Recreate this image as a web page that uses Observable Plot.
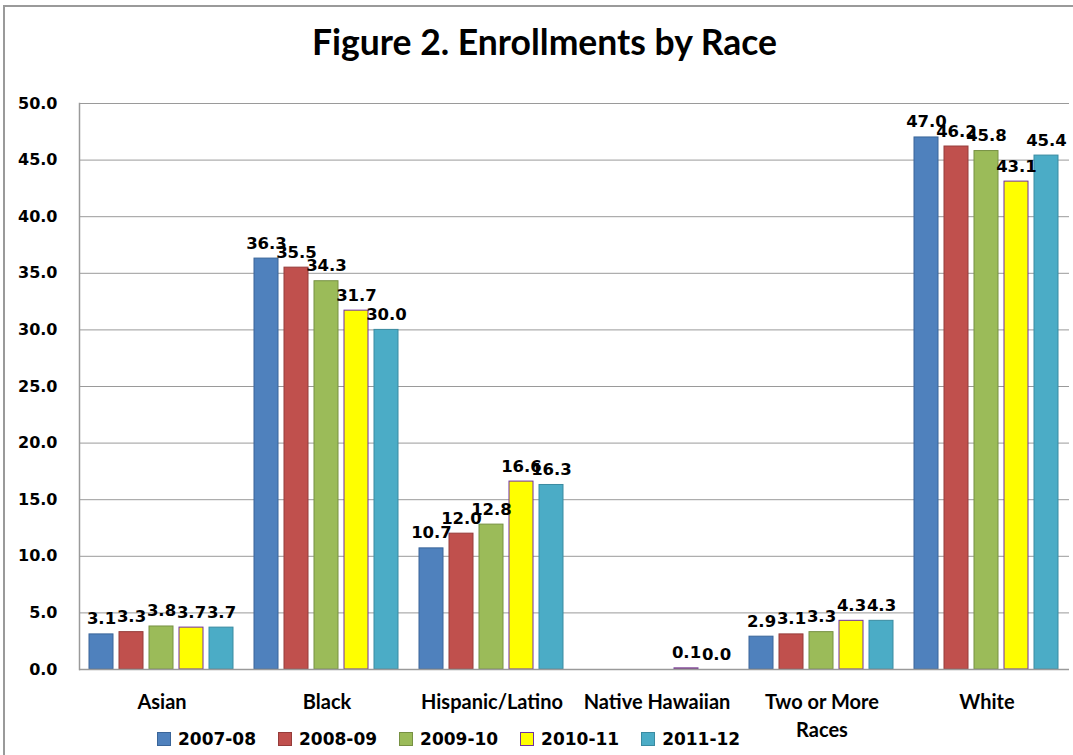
<!DOCTYPE html>
<html>
<head>
<meta charset="utf-8">
<script src="https://cdn.jsdelivr.net/npm/d3@7"></script>
<script src="https://cdn.jsdelivr.net/npm/@observablehq/plot@0.6"></script>
<style>
  html, body { margin: 0; padding: 0; background: #fff; }
  #wrap { position: relative; width: 1073px; height: 755px; overflow: hidden; background: #fff; }
  #border { position: absolute; left: 3px; top: 5px; width: 1100px; height: 800px; border: 2px solid #9a9a9a; box-sizing: border-box; }
  #title { position: absolute; left: 8px; width: 1073px; top: 22px; text-align: center; font-family: Lato, sans-serif; font-weight: bold; font-size: 35.5px; line-height: 40px; color: #000; }
  #chart { position: absolute; left: 0; top: 0; }
  #legend { position: absolute; left: 157px; top: 729px; display: flex; align-items: center; font-family: "DejaVu Sans", sans-serif; font-weight: bold; font-size: 17px; color: #000; }
  .item { display: flex; align-items: center; margin-right: 22px; }
  .sw { width: 14px; height: 14px; box-sizing: border-box; border: 1px solid; margin-right: 7px; }
</style>
</head>
<body>
<div id="wrap">
  <div id="border"></div>
  <div id="chart"></div>
  <div id="title">Figure 2. Enrollments by Race</div>
  <div id="legend"></div>
</div>
<script>
// ---- data ----
const races = ["Asian", "Black", "Hispanic/Latino", "Native Hawaiian", "Two or More Races", "White"];
const raceLabels = ["Asian", "Black", "Hispanic/Latino", "Native Hawaiian", "Two or More\nRaces", "White"];
const years = ["2007-08", "2008-09", "2009-10", "2010-11", "2011-12"];
const s2007_08 = [3.1, 36.3, 10.7, null, 2.9, 47.0];
const s2008_09 = [3.3, 35.5, 12.0, null, 3.1, 46.2];
const s2009_10 = [3.8, 34.3, 12.8, null, 3.3, 45.8];
const s2010_11 = [3.7, 31.7, 16.6, 0.1, 4.3, 43.1];
const s2011_12 = [3.7, 30.0, 16.3, 0.0, 4.3, 45.4];
const yTicks = [0, 5, 10, 15, 20, 25, 30, 35, 40, 45, 50];
const fills = ["#4F81BD", "#C0504D", "#9BBB59", "#FFFF00", "#4BACC6"];
const strokes = ["#3A6599", "#963C3A", "#779143", "#7030A0", "#3A8BA1"];

const series = [s2007_08, s2008_09, s2009_10, s2010_11, s2011_12];
const data = [];
years.forEach((yr, i) => {
  races.forEach((r, j) => {
    const v = series[i][j];
    if (v !== null) data.push({race: r, year: yr, value: v, fill: fills[i], stroke: strokes[i]});
  });
});
const labelOf = new Map(races.map((r, i) => [r, raceLabels[i]]));

const chart = Plot.plot({
  width: 1073,
  height: 755,
  marginTop: 103,
  marginBottom: 86,
  marginLeft: 77,
  marginRight: 2,
  style: {background: "transparent", fontFamily: "DejaVu Sans, sans-serif", overflow: "visible"},
  fx: {domain: races, paddingInner: 0, paddingOuter: 0, axis: null, label: null},
  x: {domain: years, paddingInner: 0.19, paddingOuter: 0.27, axis: null, label: null},
  y: {domain: [0, 50], axis: null, label: null},
  color: {type: "identity"},
  marks: [
    Plot.gridY(yTicks, {stroke: "#9a9a9a", strokeOpacity: 1, strokeWidth: 1}),
    Plot.axisY(yTicks, {tickSize: 0, tickPadding: 22, tickFormat: d3.format(".1f"), fontSize: 16, fontWeight: "bold", fill: "#000", label: null}),
    Plot.barY(data, {fx: "race", x: "year", y: "value", fill: "fill", stroke: "stroke", strokeWidth: 1}),
    Plot.text(data, {fx: "race", x: "year", y: "value", text: d => d3.format(".1f")(d.value), lineAnchor: "bottom", dy: -10, fontSize: 16.5, fontWeight: "bold", fill: "#000"}),
    Plot.ruleY([0], {stroke: "#9a9a9a", strokeWidth: 1.5}),
    Plot.frame({anchor: "left", facetAnchor: "left", stroke: "#9a9a9a", strokeWidth: 1.5}),
    Plot.text(races, {fx: d => d, text: d => labelOf.get(d), frameAnchor: "bottom", lineAnchor: "top", dy: 20, lineHeight: 1.4, fontSize: 20, fontWeight: "bold", fontFamily: "Lato, sans-serif", fill: "#000"})
  ]
});
document.getElementById("chart").appendChild(chart);

// legend
const legend = document.getElementById("legend");
years.forEach((yr, i) => {
  const item = document.createElement("div");
  item.className = "item";
  const sw = document.createElement("div");
  sw.className = "sw";
  sw.style.background = fills[i];
  sw.style.borderColor = strokes[i];
  const t = document.createElement("span");
  t.textContent = yr;
  item.appendChild(sw);
  item.appendChild(t);
  legend.appendChild(item);
});
</script>
</body>
</html>
